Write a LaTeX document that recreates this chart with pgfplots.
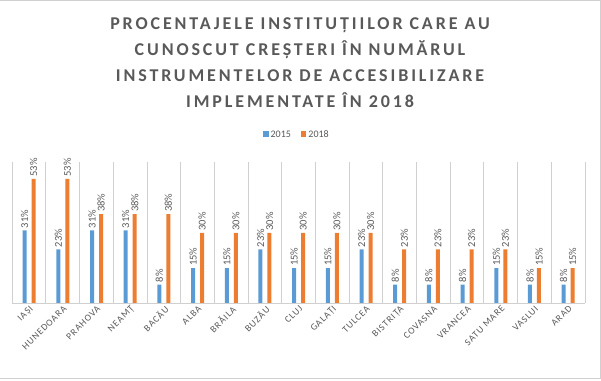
\documentclass[border=0pt]{standalone}
\usepackage{pgfplots}
\pgfplotsset{compat=1.18}
\usetikzlibrary{calc}
\usepackage{fontspec}
\setmainfont{Carlito}
\definecolor{cblue}{HTML}{5B9BD5}
\definecolor{corange}{HTML}{ED7D31}
\definecolor{cgrid}{HTML}{D0D0D0}
\definecolor{cborder}{HTML}{D0D0D0}
\definecolor{ctext}{HTML}{595959}
\begin{document}
\begin{tikzpicture}
\useasboundingbox (0pt,0pt) rectangle (601pt,380pt);
\draw[cborder, line width=1pt] (-1pt,379.5pt) -- (600.5pt,379.5pt) -- (600.5pt,1.5pt) -- (-1pt,1.5pt);
\node[font=\fontsize{18}{26}\selectfont\bfseries\addfontfeatures{LetterSpace=16}, text=ctext, align=center, anchor=center] at (300pt,317pt)
{PROCENTAJELE INSTITUȚIILOR CARE AU\\CUNOSCUT CREȘTERI ÎN NUMĂRUL\\INSTRUMENTELOR DE ACCESIBILIZARE\\IMPLEMENTATE ÎN 2018};
\begin{axis}[
  at={(12.3pt,76.7pt)}, anchor=south west,
  scale only axis, width=572.7pt, height=141pt,
  xmin=-0.5, xmax=16.5, ymin=0, ymax=60,
  clip=false,
  ybar, bar width=4pt,
  axis x line*=bottom,
  axis y line*=left,
  x axis line style={draw=none},
  y axis line style={draw=none},
  ytick=\empty,
  xtick={0,...,16},
  xticklabels={IAȘI,HUNEDOARA,PRAHOVA,NEAMȚ,BACĂU,ALBA,BRĂILA,BUZĂU,CLUJ,GALAȚI,TULCEA,BISTRIȚA,COVASNA,VRANCEA,SATU MARE,VASLUI,ARAD},
  xticklabel style={rotate=45, anchor=north east, text=ctext, font=\fontsize{9.5}{11}\selectfont\addfontfeatures{LetterSpace=10}, inner sep=1pt},
  major tick length=0pt,
  point meta=explicit symbolic,
  nodes near coords={\pgfplotspointmeta\%},
  nodes near coords style={rotate=90, anchor=west, text=ctext, font=\fontsize{10.5}{12}\selectfont, inner sep=2pt},
  legend columns=2,
  legend style={at={(0.497,1.194)}, anchor=center, draw=none, font=\fontsize{10}{12}\selectfont, text=ctext, /tikz/every even column/.append style={column sep=8pt}},
  legend image code/.code={\fill[#1] (0pt,-2pt) rectangle (5.5pt,4pt);},
  /pgf/number format/assume math mode=true,
]
\coordinate (bl) at (axis cs:-0.5,0);
\coordinate (br) at (axis cs:16.5,0);
\coordinate (tl) at (axis cs:-0.5,60);
\coordinate (tr) at (axis cs:16.5,60);
\addplot[fill=cblue, draw=none, bar shift=-4.5pt] coordinates {
(0,31)[31] (1,23)[23] (2,31)[31] (3,31)[31] (4,8)[8] (5,15)[15] (6,15)[15] (7,23)[23] (8,15)[15] (9,15)[15] (10,23)[23] (11,8)[8] (12,8)[8] (13,8)[8] (14,15)[15] (15,8)[8] (16,8)[8]};
\addplot[fill=corange, draw=none, bar shift=4.5pt] coordinates {
(0,53)[53] (1,53)[53] (2,38)[38] (3,38)[38] (4,38)[38] (5,30)[30] (6,30)[30] (7,30)[30] (8,30)[30] (9,30)[30] (10,30)[30] (11,23)[23] (12,23)[23] (13,23)[23] (14,23)[23] (15,15)[15] (16,15)[15]};
\legend{2015,2018}
\end{axis}
\foreach \i in {0,...,17} {
  \draw[cgrid, line width=1pt] ($(bl)!\i/17!(br)$) -- ($(tl)!\i/17!(tr)$);
}
\draw[cgrid, line width=1pt] (bl) -- (br);
\end{tikzpicture}
\end{document}
